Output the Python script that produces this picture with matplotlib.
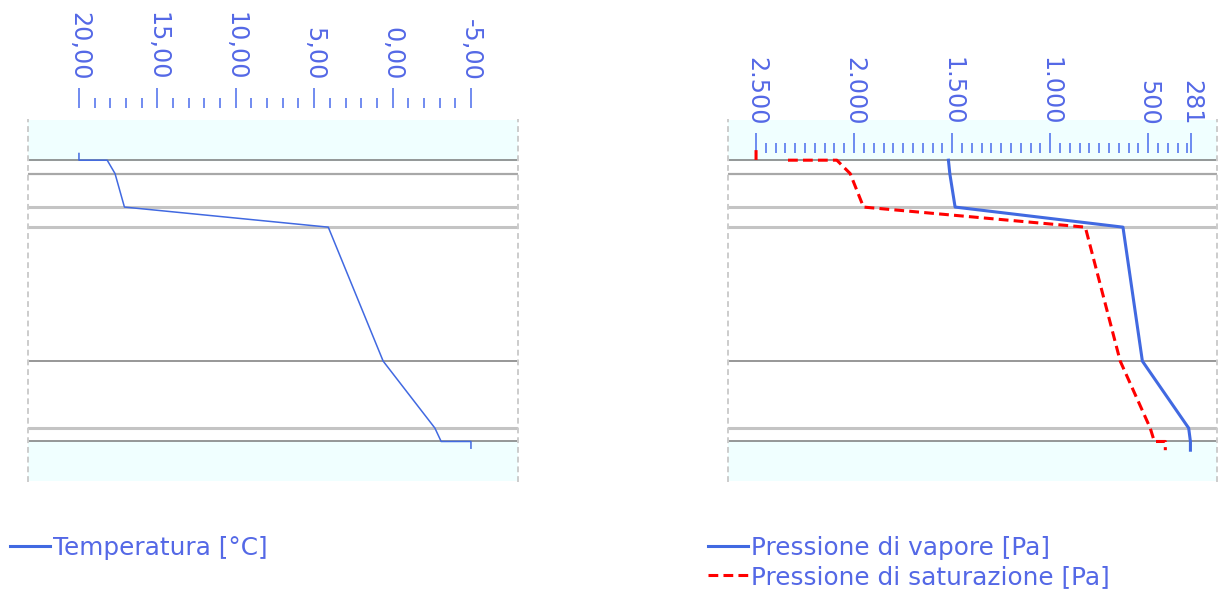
import numpy as np
import matplotlib
matplotlib.use('Agg')
from matplotlib import pyplot as plt
from matplotlib.lines import Line2D
from matplotlib.ticker import FixedLocator

# layer boundaries, depth in cm from the inner surface
bound_depth = [0, 2, 7, 10, 30, 40, 42]
bound_kind = ['thin', 'mid', 'thick', 'thick', 'thin', 'thick', 'thin']

# temperature profile [°C]
temp_depth = [-1.0, 0, 0, 2, 7, 10, 30, 40, 42, 42, 43.0]
temp_vals = [20.0, 20.0, 18.2, 17.7, 17.1, 4.1, 0.6, -2.7, -3.1, -5.0, -5.0]

# vapour pressure [Pa]
pv_depth = [0, 2, 7, 10, 30, 40, 42, 43.3]
pv_vals = [1519, 1512, 1485, 629, 530, 294, 285, 285]

# saturation pressure [Pa] (nan = gap in the line)
ps_depth = [-1.5, 0, np.nan, 0, 0, 2, 7, 10, 30, 40, 42, 42, 43.3]
ps_vals = [2500, 2500, np.nan, 2337, 2088, 2020, 1952, 821, 643, 490, 469, 413, 413]

temp_ticks = [20, 15, 10, 5, 0, -5]
temp_labels = ['20,00', '15,00', '10,00', '5,00', '0,00', '-5,00']
pres_ticks = [2500, 2000, 1500, 1000, 500, 281]
pres_labels = ['2.500', '2.000', '1.500', '1.000', '500', '281']

TXT = '#5468e6'
BLUE = '#4169e1'
TICK = '#4a6cec'
DASH = (0, (3.2, 1.7))

fig = plt.figure(figsize=(12.19, 5.96), dpi=100)

y_top, y_bot = -6.0, 47.9


def setup(ax, xlim):
    ax.set_xlim(*xlim)
    ax.set_ylim(y_bot, y_top)
    ax.set_yticks([])
    ax.axhspan(y_top, 0, color='#f0ffff', zorder=0)
    ax.axhspan(42, y_bot, color='#f0ffff', zorder=0)
    for d, k in zip(bound_depth, bound_kind):
        if k == 'thin':
            ax.axhline(d, color='#7a7a7a', lw=1.1, zorder=1)
        elif k == 'mid':
            ax.axhline(d, color='#a8a8a8', lw=1.6, zorder=1)
        else:
            ax.axhline(d, color='#c4c4c4', lw=2.2, zorder=1)
    for s in ['left', 'right']:
        ax.spines[s].set_color('#cccccc')
        ax.spines[s].set_linewidth(1.4)
        ax.spines[s].set_linestyle((0, (2.0, 3.0)))
    ax.spines['bottom'].set_visible(False)
    ax.spines['top'].set_visible(False)
    ax.xaxis.tick_top()
    ax.tick_params(axis='x', which='major', length=14.4, width=1.1, color=TICK,
                   labelcolor=TXT, labelsize=17.2, labelrotation=-90, pad=5.5)
    ax.tick_params(axis='x', which='minor', length=7.5, width=1.1, color=TICK)
    ax.tick_params(axis='y', length=0)


# left: temperature
ax1 = fig.add_axes([28 / 1219, 1 - 481 / 596, 490 / 1219, 361 / 596])
setup(ax1, (23.25, -8.0))
ax1.spines['top'].set_position(('outward', 8.6))
ax1.xaxis.set_major_locator(FixedLocator(temp_ticks))
ax1.set_xticklabels(temp_labels)
ax1.xaxis.set_minor_locator(FixedLocator(np.arange(-5, 21, 1)))
ax1.plot(temp_vals, temp_depth, color=BLUE, lw=1.1, zorder=3)

# right: pressures
ax2 = fig.add_axes([728 / 1219, 1 - 481 / 596, 489 / 1219, 361 / 596])
setup(ax2, (2643, 149.5))
ax2.spines['top'].set_position(('data', -1.0))
ax2.xaxis.set_major_locator(FixedLocator(pres_ticks))
ax2.set_xticklabels(pres_labels)
ax2.xaxis.set_minor_locator(FixedLocator(np.arange(300, 2501, 50)))
ax2.plot(pv_vals, pv_depth, color=BLUE, lw=2.2, zorder=3)
ax2.plot(ps_vals, ps_depth, color='#ff0000', lw=2.2, zorder=3, linestyle=DASH)

# legends (handles drawn thicker than the temperature line, as in the source)
h1 = Line2D([], [], color=BLUE, lw=2.2)
h2 = Line2D([], [], color=BLUE, lw=2.2)
h3 = Line2D([], [], color='#ff0000', lw=2.2, linestyle=DASH)

leg_kw = dict(loc='upper left', bbox_transform=fig.transFigure, frameon=False,
              borderpad=0, borderaxespad=0, handlelength=1.62, handletextpad=0.1,
              labelspacing=0.2, fontsize=17.8, labelcolor=TXT)
ax1.legend([h1], ['Temperatura [°C]'],
           bbox_to_anchor=(10 / 1219, 1 - 536 / 596), **leg_kw)
ax2.legend([h2, h3], ['Pressione di vapore [Pa]', 'Pressione di saturazione [Pa]'],
           bbox_to_anchor=(708 / 1219, 1 - 536 / 596), **leg_kw)

fig.savefig('out.png', dpi=100)
